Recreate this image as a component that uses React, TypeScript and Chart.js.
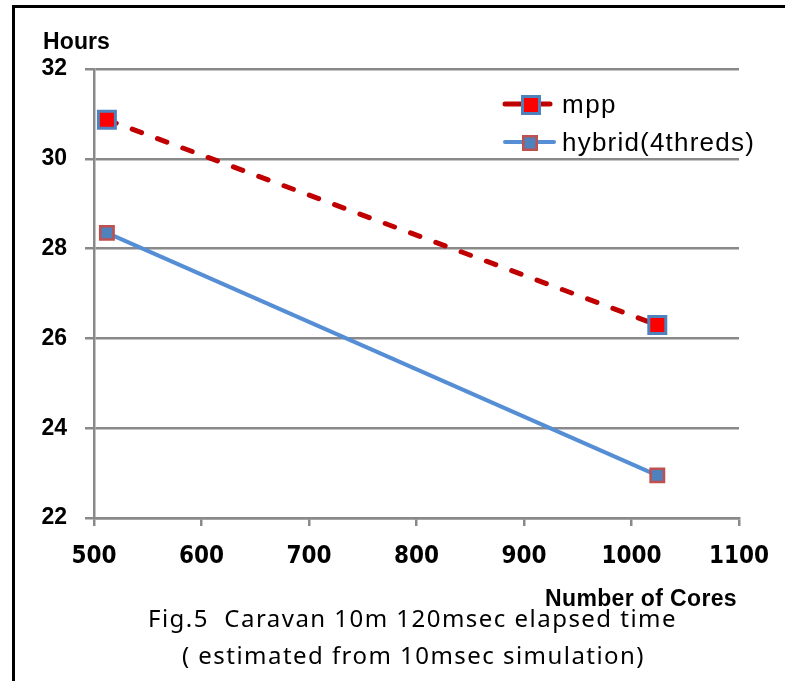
import React, { useEffect, useRef } from "react";
import { Chart, registerables } from "chart.js";

Chart.register(...registerables);

const cores = [512, 1024];
const mppHours = [30.87, 26.3];
const hybridHours = [28.35, 22.95];
const seriesNames = ["mpp", "hybrid(4threds)"];
const yAxisTitle = "Hours";
const xAxisTitle = "Number of Cores";
const captionLines = ["Fig.5  Caravan 10m 120msec elapsed time", "( estimated from 10msec simulation)"];

const GRID = "#898989";
const RED_LINE = "#C00000";
const BLUE_LINE = "#558ED5";
const MARK_BLUE = "#4F81BD";
const MARK_RED = "#C0504D";

function fitText(ctx: CanvasRenderingContext2D, text: string, x: number, y: number, width: number, font: string) {
  ctx.save();
  ctx.font = font;
  (ctx as any).letterSpacing = "0px";
  const natural = ctx.measureText(text).width;
  const ls = (width - natural) / text.length;
  (ctx as any).letterSpacing = ls + "px";
  ctx.textAlign = "left";
  ctx.textBaseline = "alphabetic";
  ctx.fillText(text, x, y);
  ctx.restore();
}

function square(ctx: CanvasRenderingContext2D, cx: number, cy: number, side: number, fill: string, stroke: string, bw: number) {
  ctx.save();
  ctx.fillStyle = fill;
  ctx.strokeStyle = stroke;
  ctx.lineWidth = bw;
  ctx.beginPath();
  ctx.rect(cx - side / 2, cy - side / 2, side, side);
  ctx.fill();
  ctx.stroke();
  ctx.restore();
}

const decorPlugin = {
  id: "decor",
  afterDraw(chart: any) {
    const ctx: CanvasRenderingContext2D = chart.ctx;
    ctx.save();
    ctx.fillStyle = "#000";
    ctx.fillRect(12, 5, 3, 676);
    ctx.fillRect(12, 5, 773, 3);
    ctx.fillStyle = "#000";
    fitText(ctx, yAxisTitle, 43, 49, 67, "bold 23px 'Liberation Sans'");
    fitText(ctx, xAxisTitle, 545, 606, 192, "bold 23px 'Liberation Sans'");
    fitText(ctx, captionLines[0], 148, 627, 529, "24px 'Noto Sans'");
    fitText(ctx, captionLines[1], 182, 664, 463, "24px 'Noto Sans'");
    ctx.lineCap = "round";
    ctx.lineWidth = 5;
    ctx.strokeStyle = RED_LINE;
    ctx.beginPath();
    ctx.moveTo(505, 104);
    ctx.lineTo(550, 104);
    ctx.stroke();
    square(ctx, 531, 105, 17, "#FF0000", MARK_BLUE, 3);
    ctx.lineWidth = 4;
    ctx.strokeStyle = BLUE_LINE;
    ctx.beginPath();
    ctx.moveTo(505, 142);
    ctx.lineTo(554, 142);
    ctx.stroke();
    square(ctx, 530, 143, 13.5, MARK_BLUE, MARK_RED, 2.5);
    fitText(ctx, seriesNames[0], 562, 113, 55, "26px 'Liberation Sans'");
    fitText(ctx, seriesNames[1], 562, 151, 193, "26px 'Liberation Sans'");
    ctx.restore();
  },
};

export default function App() {
  const ref = useRef<HTMLCanvasElement | null>(null);
  useEffect(() => {
    if (!ref.current) return;
    const chart = new Chart(ref.current, {
      type: "line",
      data: {
        datasets: [
          {
            label: seriesNames[0],
            data: cores.map((c, i) => ({ x: c, y: mppHours[i] })),
            borderColor: RED_LINE,
            borderWidth: 5,
            borderDash: [10, 17],
            borderCapStyle: "round",
            pointStyle: "rect",
            pointRadius: 12,
            pointBorderWidth: 3,
            pointBackgroundColor: "#FF0000",
            pointBorderColor: MARK_BLUE,
            tension: 0,
          },
          {
            label: seriesNames[1],
            data: cores.map((c, i) => ({ x: c, y: hybridHours[i] })),
            borderColor: BLUE_LINE,
            borderWidth: 4,
            pointStyle: "rect",
            pointRadius: 9.5,
            pointBorderWidth: 2.5,
            pointBackgroundColor: MARK_BLUE,
            pointBorderColor: MARK_RED,
            tension: 0,
          },
        ],
      },
      options: {
        responsive: false,
        animation: false,
        layout: { padding: { left: 0, top: 69, right: 46, bottom: 0 } },
        plugins: { legend: { display: false }, tooltip: { enabled: false } },
        scales: {
          x: {
            type: "linear",
            min: 500,
            max: 1100,
            afterFit: (s: any) => {
              s.height = 163;
              s.paddingLeft = 0;
              s.paddingRight = 0;
            },
            ticks: {
              stepSize: 100,
              color: "#000",
              padding: 16,
              maxRotation: 0,
              autoSkip: false,
              callback: (v: any) => String(v),
              font: { family: "'DejaVu Sans Condensed', 'DejaVu Sans'", weight: "bold", size: 24 },
            },
            grid: { drawOnChartArea: false, drawTicks: true, tickLength: 8, color: GRID, lineWidth: 2.5 },
            border: { color: GRID, width: 2.5 },
          },
          y: {
            min: 22,
            max: 32,
            afterFit: (s: any) => {
              s.width = 94;
              s.paddingTop = 0;
              s.paddingBottom = 0;
            },
            ticks: {
              stepSize: 2,
              color: "#000",
              padding: 18,
              font: { family: "'Liberation Sans'", weight: "bold", size: 23 },
            },
            grid: { drawTicks: true, tickLength: 9, color: GRID, lineWidth: 2.5 },
            border: { color: GRID, width: 2.5 },
          },
        },
      },
      plugins: [decorPlugin],
    } as any);
    return () => chart.destroy();
  }, []);
  return (
    <div style={{ position: "absolute", left: 0, top: 0, width: 785, height: 681, background: "#fff" }}>
      <canvas ref={ref} width={785} height={681} style={{ display: "block" }} />
    </div>
  );
}
